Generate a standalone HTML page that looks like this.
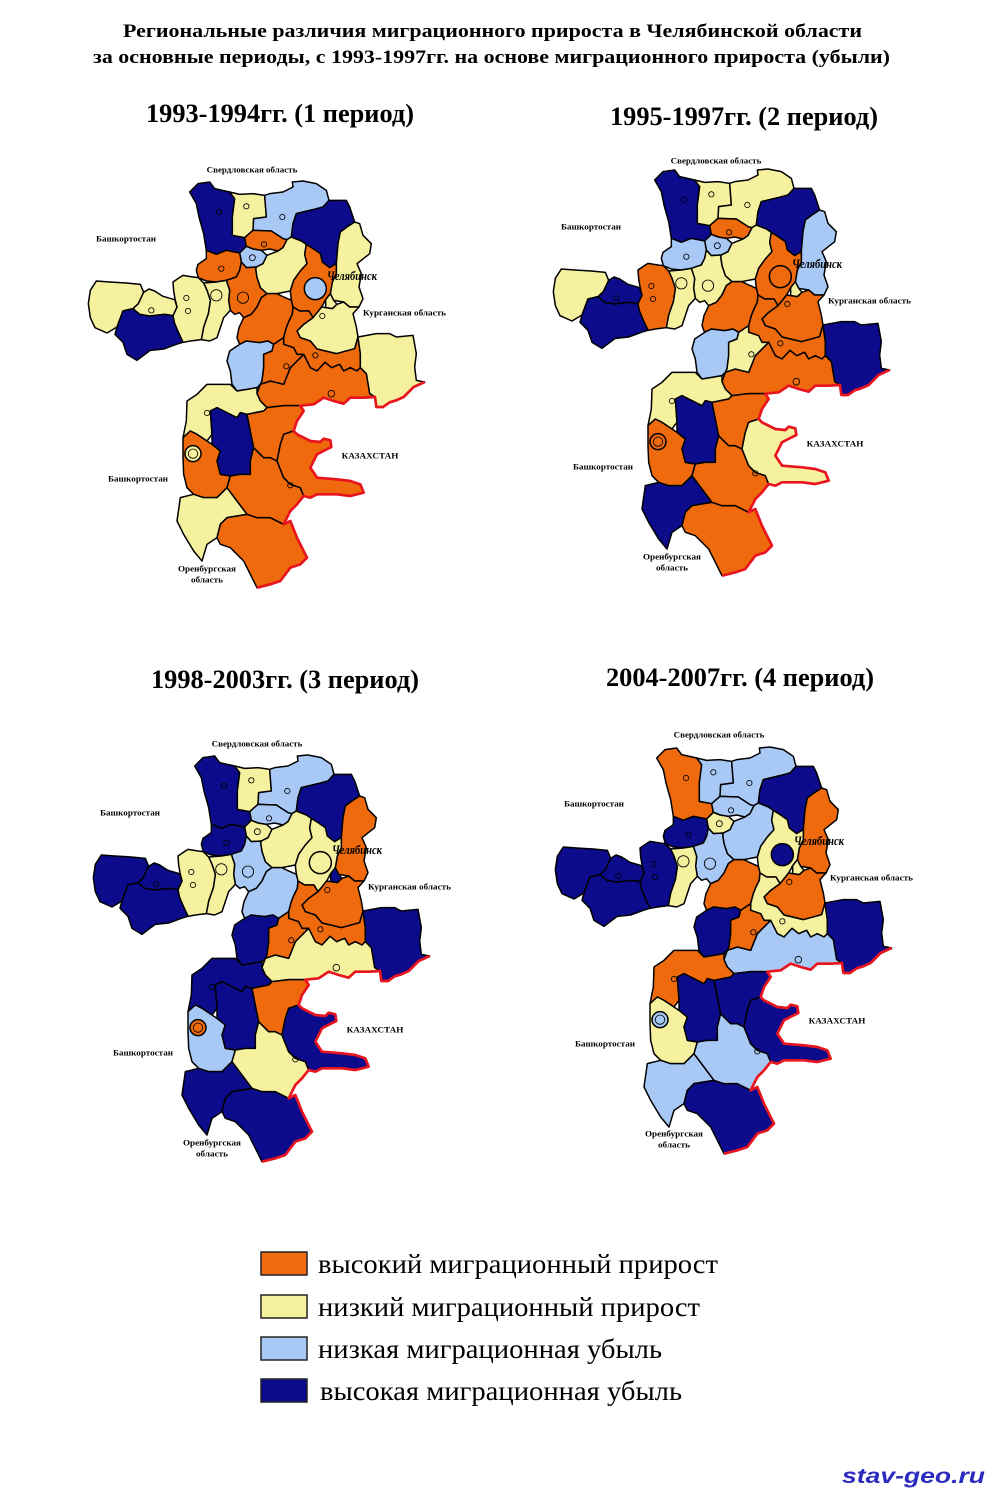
<!DOCTYPE html>
<html>
<head>
<meta charset="utf-8">
<style>
html,body{margin:0;padding:0;background:#fff;}
svg{display:block;}
.t{font-family:"Liberation Serif","Noto Serif CJK SC",serif;font-weight:bold;fill:#000;}
.lg{font-family:"Liberation Serif","Noto Serif CJK SC",serif;fill:#000;}
.ml{font-family:"Liberation Serif","Noto Serif CJK SC",serif;font-weight:bold;fill:#000;font-size:26px;}
.ch{font-family:"Liberation Serif","Noto Serif CJK SC",serif;font-weight:bold;font-style:italic;fill:#000;font-size:38px;}
</style>
</head>
<body>
<svg width="1000" height="1500" viewBox="0 0 1000 1500" xmlns="http://www.w3.org/2000/svg">
<rect x="0" y="0" width="1000" height="1500" fill="#fff"/>
<defs>
<polygon id="A" points="320,75 345,50 380,45 395,65 440,75 455,95 448,150 448,205 485,212 490,238 470,258 430,250 400,262 370,250 362,200 348,150 340,110"/>
<polygon id="B" points="440,75 470,82 510,80 545,85 550,150 512,155 510,190 485,212 448,205 448,150 455,95"/>
<polygon id="C" points="545,85 560,80 600,75 630,60 628,45 660,42 700,50 730,70 738,100 720,120 690,128 640,140 630,170 625,210 612,218 600,215 565,192 510,190 512,155 550,150"/>
<polygon id="D" points="738,100 790,100 800,120 815,165 795,178 772,195 765,230 760,290 740,302 718,285 712,260 690,245 670,232 655,222 625,210 630,170 640,140 690,128 720,120"/>
<polygon id="E" points="815,165 830,170 840,205 865,230 860,260 822,290 835,320 828,360 840,395 828,420 800,420 782,405 752,400 742,380 748,345 760,320 760,290 765,230 772,195 795,178"/>
<polygon id="F" points="510,190 565,192 600,215 612,218 600,242 585,252 560,246 535,250 510,246 490,238 485,212"/>
<polygon id="G" points="490,238 510,246 535,250 552,265 540,290 520,300 490,302 475,285 470,258"/>
<polygon id="H" points="340,310 345,292 370,275 370,250 400,262 430,250 470,258 475,285 470,310 460,330 430,340 400,345 370,342 346,332"/>
<polygon id="I" points="552,265 585,252 600,242 612,218 625,210 655,222 670,232 665,262 672,290 652,312 632,340 622,372 582,380 552,380 532,362 522,332 518,306 520,300 540,290"/>
<polygon id="J" points="670,232 690,245 712,260 718,285 740,302 760,290 760,320 748,345 742,380 728,398 716,420 700,440 690,452 678,432 650,432 630,420 625,400 622,372 632,340 652,312 672,290 665,262"/>
<polygon id="L" points="742,380 752,400 762,412 748,425 728,422 728,398"/>
<polygon id="M" points="430,340 460,330 470,310 475,285 490,302 520,300 518,306 522,332 532,362 552,380 535,392 522,420 505,442 482,452 470,437 455,442 442,430 437,400 440,370"/>
<polygon id="N" points="362,348 400,345 430,340 440,370 437,400 442,430 422,452 412,482 402,512 380,522 355,518 362,480 376,440 382,400 372,370"/>
<polygon id="O" points="270,345 292,330 300,325 330,330 346,332 362,348 372,370 382,400 376,440 362,480 355,518 322,522 300,526 286,496 275,470 268,450 282,420 276,395 272,372"/>
<polygon id="P" points="22,370 40,342 80,345 130,348 172,352 182,376 166,410 150,425 120,432 102,480 72,498 36,482 22,452 16,410"/>
<polygon id="Q" points="150,425 166,410 182,376 198,366 215,372 240,388 275,398 282,420 270,446 245,442 200,447 170,442"/>
<polygon id="R" points="102,480 120,432 150,425 170,442 200,447 245,442 270,446 275,470 286,496 300,526 280,532 242,546 202,550 162,580 132,562 120,526 96,502"/>
<polygon id="S" points="482,452 505,442 522,420 535,392 552,380 582,380 602,390 625,400 630,420 628,442 618,462 610,482 602,512 572,532 555,522 530,527 490,522 470,532 462,512 468,482"/>
<polygon id="T" points="690,452 700,440 716,420 728,422 748,425 762,412 782,405 800,420 828,420 810,440 820,480 825,510 815,545 760,560 702,546 682,522 652,512 642,492 662,472"/>
<polygon id="U" points="610,482 618,462 628,442 630,420 650,432 678,432 690,452 662,472 642,492 652,512 682,522 702,546 760,560 815,545 825,510 832,560 832,602 822,612 802,602 782,612 770,592 746,602 726,586 702,612 682,602 662,562 642,562 632,542 602,532 602,512"/>
<polygon id="V" points="825,510 880,500 920,500 940,510 990,505 1000,560 995,600 1000,640 1025,645 992,660 962,690 940,700 920,706 900,720 880,720 876,690 860,680 855,650 850,620 832,602 832,560"/>
<polygon id="W" points="522,680 532,652 562,642 602,652 622,602 642,582 662,562 682,602 702,612 726,586 746,602 770,592 782,612 802,602 822,612 832,602 850,620 855,650 860,680 876,690 842,692 802,692 782,710 752,702 722,692 692,712 652,716 602,716 552,722 532,702"/>
<polygon id="X" points="432,582 440,552 470,532 490,522 530,527 555,522 572,532 567,552 542,562 542,602 537,642 532,652 522,662 492,667 462,672 447,652 442,612"/>
<polygon id="Yp" points="542,562 567,552 572,532 602,512 602,532 632,542 642,562 662,562 642,582 622,602 602,652 562,642 532,652 537,642 542,602"/>
<polygon id="Z" points="312,702 342,682 372,652 442,652 462,672 492,667 522,662 522,680 532,702 552,722 542,732 492,742 472,737 462,752 422,732 402,722 382,732 387,802 372,822 342,802 322,792 300,812 310,762"/>
<polygon id="AA" points="300,812 322,792 342,802 372,822 387,832 412,852 402,882 412,922 442,927 432,962 402,992 362,992 332,982 312,962 302,922 300,872"/>
<polygon id="AC" points="382,732 402,722 422,732 462,752 472,737 492,742 502,792 512,842 502,882 502,922 472,922 442,927 412,922 402,882 412,852 387,832 387,802"/>
<polygon id="AD" points="282,1062 292,992 332,982 362,992 402,992 432,962 462,1002 492,1042 432,1052 412,1072 402,1112 372,1132 357,1182 332,1152 302,1102"/>
<polygon id="AE" points="432,1052 492,1042 522,1052 562,1052 602,1072 622,1062 642,1112 672,1172 652,1192 622,1202 592,1242 562,1252 522,1262 502,1222 482,1182 442,1142 412,1132 402,1112 412,1072"/>
<polygon id="AF" points="442,927 472,922 502,922 502,882 512,842 542,872 562,872 582,882 602,932 622,952 652,962 662,987 642,1012 622,1032 602,1072 562,1052 522,1052 492,1042 462,1002 432,962"/>
<polygon id="AG" points="492,742 542,732 552,722 602,716 652,716 662,732 642,762 632,792 602,802 592,832 582,882 562,872 542,872 512,842 502,792"/>
<polygon id="AH" points="582,882 592,832 602,802 632,792 642,802 682,822 712,825 722,815 742,820 745,840 725,850 702,862 682,902 702,932 762,937 802,942 832,952 842,977 802,987 762,982 702,982 682,992 662,987 652,962 622,952 602,932"/>
<circle id="K" cx="697" cy="365" r="33"/>
<circle id="AB" cx="330" cy="860" r="24"/>
<polyline id="RB" points="1025,645 992,660 962,690 940,700 920,706 900,720 880,720 876,690 842,692 802,692 782,710 752,702 722,692 692,712 652,716 662,732 642,762 632,792 642,802 682,822 712,825 722,815 742,820 745,840 725,850 702,862 682,902 702,932 762,937 802,942 832,952 842,977 802,987 762,982 702,982 682,992 662,987 642,1012 622,1032 602,1072 622,1062 642,1112 672,1172 652,1192 622,1202 592,1242 562,1252 522,1262"/>
<g id="CITIES" fill="none" stroke="#000" stroke-width="2.5">
<circle cx="490" cy="118" r="8"/><circle cx="598" cy="150" r="8"/><circle cx="543" cy="232" r="8"/>
<circle cx="508" cy="272" r="9"/><circle cx="415" cy="305" r="8"/><circle cx="480" cy="392" r="17"/>
<circle cx="400" cy="385" r="17"/><circle cx="718" cy="447" r="8"/><circle cx="697" cy="565" r="8"/>
<circle cx="610" cy="598" r="8"/><circle cx="745" cy="680" r="10"/><circle cx="372" cy="738" r="8"/>
<circle cx="622" cy="955" r="8"/><circle cx="408" cy="135" r="8"/><circle cx="310" cy="393" r="8"/>
<circle cx="315" cy="432" r="8"/><circle cx="205" cy="430" r="8"/><circle cx="330" cy="860" r="14"/>
</g>
</defs>

<!-- Titles -->
<text class="t" x="123" y="37" font-size="19" textLength="739" lengthAdjust="spacingAndGlyphs">Региональные различия миграционного прироста в Челябинской области</text>
<text class="t" x="93" y="63" font-size="19" textLength="797" lengthAdjust="spacingAndGlyphs">за основные периоды, с 1993-1997гг. на основе миграционного прироста (убыли)</text>

<text class="t" x="146" y="122" font-size="26" textLength="268" lengthAdjust="spacingAndGlyphs">1993-1994гг. (1 период)</text>
<text class="t" x="610" y="125" font-size="26" textLength="268" lengthAdjust="spacingAndGlyphs">1995-1997гг. (2 период)</text>
<text class="t" x="151" y="688" font-size="26" textLength="268" lengthAdjust="spacingAndGlyphs">1998-2003гг. (3 период)</text>
<text class="t" x="606" y="686" font-size="26" textLength="268" lengthAdjust="spacingAndGlyphs">2004-2007гг. (4 период)</text>

<!-- MAP 1 -->
<g transform="translate(83,167) scale(0.33333)" stroke="#000" stroke-width="4.5" stroke-linejoin="round">
<use href="#A" fill="#0B0B8B"/><use href="#B" fill="#F6F19E"/><use href="#C" fill="#A8C8F6"/><use href="#D" fill="#0B0B8B"/>
<use href="#E" fill="#F6F19E"/><use href="#F" fill="#EF6A0C"/><use href="#G" fill="#A8C8F6"/><use href="#H" fill="#EF6A0C"/>
<use href="#I" fill="#F6F19E"/><use href="#J" fill="#EF6A0C"/><use href="#L" fill="#F6F19E"/><use href="#M" fill="#EF6A0C"/>
<use href="#N" fill="#F6F19E"/><use href="#O" fill="#F6F19E"/><use href="#P" fill="#F6F19E"/><use href="#Q" fill="#F6F19E"/>
<use href="#R" fill="#0B0B8B"/><use href="#S" fill="#EF6A0C"/><use href="#T" fill="#F6F19E"/><use href="#U" fill="#EF6A0C"/>
<use href="#V" fill="#F6F19E"/><use href="#W" fill="#EF6A0C"/><use href="#X" fill="#A8C8F6"/><use href="#Yp" fill="#EF6A0C"/>
<use href="#Z" fill="#F6F19E"/><use href="#AA" fill="#EF6A0C"/><use href="#AC" fill="#0B0B8B"/><use href="#AD" fill="#F6F19E"/>
<use href="#AE" fill="#EF6A0C"/><use href="#AF" fill="#EF6A0C"/><use href="#AG" fill="#EF6A0C"/><use href="#AH" fill="#EF6A0C"/>
<use href="#K" fill="#A8C8F6"/><use href="#AB" fill="#F6F19E"/>
<use href="#CITIES"/>
<use href="#RB" fill="none" stroke="#E8141E" stroke-width="8"/>
<g stroke="none">
<text class="ml" x="507" y="17" text-anchor="middle" textLength="272" lengthAdjust="spacingAndGlyphs">Свердловская область</text>
<text class="ml" x="129" y="224" text-anchor="middle" textLength="180" lengthAdjust="spacingAndGlyphs">Башкортостан</text>
<text class="ml" x="165" y="944" text-anchor="middle" textLength="180" lengthAdjust="spacingAndGlyphs">Башкортостан</text>
<text class="ml" x="840" y="446" textLength="249" lengthAdjust="spacingAndGlyphs">Курганская область</text>
<text class="ml" x="861" y="875" text-anchor="middle" textLength="170" lengthAdjust="spacingAndGlyphs">КАЗАХСТАН</text>
<text class="ml" x="372" y="1214" text-anchor="middle" textLength="174" lengthAdjust="spacingAndGlyphs">Оренбургская</text>
<text class="ml" x="372" y="1247" text-anchor="middle" textLength="96" lengthAdjust="spacingAndGlyphs">область</text>
<text class="ch" x="807" y="339" text-anchor="middle" textLength="150" lengthAdjust="spacingAndGlyphs">Челябинск</text>
</g>
</g>

<!-- MAP 2 -->
<g transform="translate(548,155) scale(0.33333)" stroke="#000" stroke-width="4.5" stroke-linejoin="round">
<use href="#A" fill="#0B0B8B"/><use href="#B" fill="#F6F19E"/><use href="#C" fill="#F6F19E"/><use href="#D" fill="#0B0B8B"/>
<use href="#E" fill="#A8C8F6"/><use href="#F" fill="#EF6A0C"/><use href="#G" fill="#A8C8F6"/><use href="#H" fill="#A8C8F6"/>
<use href="#I" fill="#F6F19E"/><use href="#J" fill="#EF6A0C"/><use href="#L" fill="#F6F19E"/><use href="#M" fill="#F6F19E"/>
<use href="#N" fill="#F6F19E"/><use href="#O" fill="#EF6A0C"/><use href="#P" fill="#F6F19E"/><use href="#Q" fill="#0B0B8B"/>
<use href="#R" fill="#0B0B8B"/><use href="#S" fill="#EF6A0C"/><use href="#T" fill="#EF6A0C"/><use href="#U" fill="#EF6A0C"/>
<use href="#V" fill="#0B0B8B"/><use href="#W" fill="#EF6A0C"/><use href="#X" fill="#A8C8F6"/><use href="#Yp" fill="#F6F19E"/>
<use href="#Z" fill="#F6F19E"/><use href="#AA" fill="#EF6A0C"/><use href="#AC" fill="#0B0B8B"/><use href="#AD" fill="#0B0B8B"/>
<use href="#AE" fill="#EF6A0C"/><use href="#AF" fill="#EF6A0C"/><use href="#AG" fill="#EF6A0C"/><use href="#AH" fill="#F6F19E"/>
<use href="#K" fill="#EF6A0C"/><use href="#AB" fill="#EF6A0C"/>
<use href="#CITIES"/>
<use href="#RB" fill="none" stroke="#E8141E" stroke-width="8"/>
<g stroke="none">
<text class="ml" x="504" y="26" text-anchor="middle" textLength="272" lengthAdjust="spacingAndGlyphs">Свердловская область</text>
<text class="ml" x="129" y="224" text-anchor="middle" textLength="180" lengthAdjust="spacingAndGlyphs">Башкортостан</text>
<text class="ml" x="165" y="944" text-anchor="middle" textLength="180" lengthAdjust="spacingAndGlyphs">Башкортостан</text>
<text class="ml" x="840" y="446" textLength="249" lengthAdjust="spacingAndGlyphs">Курганская область</text>
<text class="ml" x="861" y="875" text-anchor="middle" textLength="170" lengthAdjust="spacingAndGlyphs">КАЗАХСТАН</text>
<text class="ml" x="372" y="1214" text-anchor="middle" textLength="174" lengthAdjust="spacingAndGlyphs">Оренбургская</text>
<text class="ml" x="372" y="1247" text-anchor="middle" textLength="96" lengthAdjust="spacingAndGlyphs">область</text>
<text class="ch" x="807" y="339" text-anchor="middle" textLength="150" lengthAdjust="spacingAndGlyphs">Челябинск</text>
</g>
</g>

<!-- MAP 3 -->
<g transform="translate(88,741) scale(0.33333)" stroke="#000" stroke-width="4.5" stroke-linejoin="round">
<use href="#A" fill="#0B0B8B"/><use href="#B" fill="#F6F19E"/><use href="#C" fill="#A8C8F6"/><use href="#D" fill="#0B0B8B"/>
<use href="#E" fill="#EF6A0C"/><use href="#F" fill="#A8C8F6"/><use href="#G" fill="#F6F19E"/><use href="#H" fill="#0B0B8B"/>
<use href="#I" fill="#F6F19E"/><use href="#J" fill="#F6F19E"/><use href="#L" fill="#0B0B8B"/><use href="#M" fill="#A8C8F6"/>
<use href="#N" fill="#F6F19E"/><use href="#O" fill="#F6F19E"/><use href="#P" fill="#0B0B8B"/><use href="#Q" fill="#0B0B8B"/>
<use href="#R" fill="#0B0B8B"/><use href="#S" fill="#A8C8F6"/><use href="#T" fill="#EF6A0C"/><use href="#U" fill="#EF6A0C"/>
<use href="#V" fill="#0B0B8B"/><use href="#W" fill="#F6F19E"/><use href="#X" fill="#0B0B8B"/><use href="#Yp" fill="#EF6A0C"/>
<use href="#Z" fill="#0B0B8B"/><use href="#AA" fill="#A8C8F6"/><use href="#AC" fill="#0B0B8B"/><use href="#AD" fill="#0B0B8B"/>
<use href="#AE" fill="#0B0B8B"/><use href="#AF" fill="#F6F19E"/><use href="#AG" fill="#EF6A0C"/><use href="#AH" fill="#0B0B8B"/>
<use href="#K" fill="#F6F19E"/><use href="#AB" fill="#EF6A0C"/>
<use href="#CITIES"/>
<use href="#RB" fill="none" stroke="#E8141E" stroke-width="8"/>
<g stroke="none">
<text class="ml" x="507" y="17" text-anchor="middle" textLength="272" lengthAdjust="spacingAndGlyphs">Свердловская область</text>
<text class="ml" x="126" y="224" text-anchor="middle" textLength="180" lengthAdjust="spacingAndGlyphs">Башкортостан</text>
<text class="ml" x="165" y="944" text-anchor="middle" textLength="180" lengthAdjust="spacingAndGlyphs">Башкортостан</text>
<text class="ml" x="840" y="446" textLength="249" lengthAdjust="spacingAndGlyphs">Курганская область</text>
<text class="ml" x="861" y="875" text-anchor="middle" textLength="170" lengthAdjust="spacingAndGlyphs">КАЗАХСТАН</text>
<text class="ml" x="372" y="1214" text-anchor="middle" textLength="174" lengthAdjust="spacingAndGlyphs">Оренбургская</text>
<text class="ml" x="372" y="1247" text-anchor="middle" textLength="96" lengthAdjust="spacingAndGlyphs">область</text>
<text class="ch" x="807" y="339" text-anchor="middle" textLength="150" lengthAdjust="spacingAndGlyphs">Челябинск</text>
</g>
</g>

<!-- MAP 4 -->
<g transform="translate(550,733) scale(0.33333)" stroke="#000" stroke-width="4.5" stroke-linejoin="round">
<use href="#A" fill="#EF6A0C"/><use href="#B" fill="#A8C8F6"/><use href="#C" fill="#A8C8F6"/><use href="#D" fill="#0B0B8B"/>
<use href="#E" fill="#EF6A0C"/><use href="#F" fill="#A8C8F6"/><use href="#G" fill="#F6F19E"/><use href="#H" fill="#0B0B8B"/>
<use href="#I" fill="#A8C8F6"/><use href="#J" fill="#F6F19E"/><use href="#L" fill="#F6F19E"/><use href="#M" fill="#A8C8F6"/>
<use href="#N" fill="#F6F19E"/><use href="#O" fill="#0B0B8B"/><use href="#P" fill="#0B0B8B"/><use href="#Q" fill="#0B0B8B"/>
<use href="#R" fill="#0B0B8B"/><use href="#S" fill="#EF6A0C"/><use href="#T" fill="#EF6A0C"/><use href="#U" fill="#F6F19E"/>
<use href="#V" fill="#0B0B8B"/><use href="#W" fill="#A8C8F6"/><use href="#X" fill="#0B0B8B"/><use href="#Yp" fill="#EF6A0C"/>
<use href="#Z" fill="#EF6A0C"/><use href="#AA" fill="#F6F19E"/><use href="#AC" fill="#0B0B8B"/><use href="#AD" fill="#A8C8F6"/>
<use href="#AE" fill="#0B0B8B"/><use href="#AF" fill="#A8C8F6"/><use href="#AG" fill="#0B0B8B"/><use href="#AH" fill="#0B0B8B"/>
<use href="#K" fill="#0B0B8B"/><use href="#AB" fill="#A8C8F6"/>
<use href="#CITIES"/>
<use href="#RB" fill="none" stroke="#E8141E" stroke-width="8"/>
<g stroke="none">
<text class="ml" x="507" y="14" text-anchor="middle" textLength="272" lengthAdjust="spacingAndGlyphs">Свердловская область</text>
<text class="ml" x="132" y="221" text-anchor="middle" textLength="180" lengthAdjust="spacingAndGlyphs">Башкортостан</text>
<text class="ml" x="165" y="941" text-anchor="middle" textLength="180" lengthAdjust="spacingAndGlyphs">Башкортостан</text>
<text class="ml" x="840" y="443" textLength="249" lengthAdjust="spacingAndGlyphs">Курганская область</text>
<text class="ml" x="861" y="872" text-anchor="middle" textLength="170" lengthAdjust="spacingAndGlyphs">КАЗАХСТАН</text>
<text class="ml" x="372" y="1211" text-anchor="middle" textLength="174" lengthAdjust="spacingAndGlyphs">Оренбургская</text>
<text class="ml" x="372" y="1244" text-anchor="middle" textLength="96" lengthAdjust="spacingAndGlyphs">область</text>
<text class="ch" x="807" y="336" text-anchor="middle" textLength="150" lengthAdjust="spacingAndGlyphs">Челябинск</text>
</g>
</g>

<!-- Legend -->
<rect x="261" y="1252" width="46" height="23" fill="#EF6A0C" stroke="#222" stroke-width="1.5"/>
<rect x="261" y="1295" width="46" height="23" fill="#F6F19E" stroke="#222" stroke-width="1.5"/>
<rect x="261" y="1337" width="46" height="23" fill="#A8C8F6" stroke="#222" stroke-width="1.5"/>
<rect x="261" y="1379" width="46" height="23" fill="#0B0B8B" stroke="#222" stroke-width="1.5"/>
<text class="lg" x="318" y="1273" font-size="27" textLength="400" lengthAdjust="spacingAndGlyphs">высокий миграционный прирост</text>
<text class="lg" x="318" y="1316" font-size="27" textLength="382" lengthAdjust="spacingAndGlyphs">низкий миграционный прирост</text>
<text class="lg" x="318" y="1358" font-size="27" textLength="344" lengthAdjust="spacingAndGlyphs">низкая миграционная убыль</text>
<text class="lg" x="320" y="1400" font-size="27" textLength="362" lengthAdjust="spacingAndGlyphs">высокая миграционная убыль</text>

<text x="842" y="1483" font-family="Liberation Sans, sans-serif" font-weight="bold" font-style="italic" font-size="21" fill="#2B2BC0" textLength="143" lengthAdjust="spacingAndGlyphs">stav-geo.ru</text>
</svg>
</body>
</html>
